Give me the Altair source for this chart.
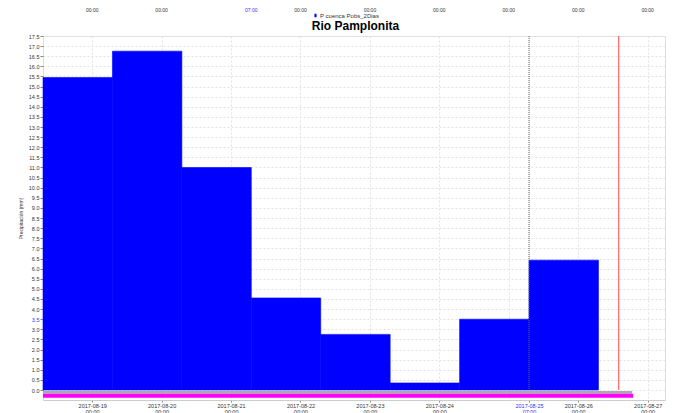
import altair as alt
import pandas as pd

# ---------------- data ----------------
series_name = "P cuenca Pobs_2Dias"
chart_title = "Rio Pamplonita"
y_title = "Precipitación (mm)"

bar_start = ["2017-08-18T07:00:00Z", "2017-08-19T07:00:00Z", "2017-08-20T07:00:00Z",
             "2017-08-21T07:00:00Z", "2017-08-22T07:00:00Z", "2017-08-23T07:00:00Z",
             "2017-08-24T07:00:00Z", "2017-08-25T07:00:00Z"]
bar_end = ["2017-08-19T07:00:00Z", "2017-08-20T07:00:00Z", "2017-08-21T07:00:00Z",
           "2017-08-22T07:00:00Z", "2017-08-23T07:00:00Z", "2017-08-24T07:00:00Z",
           "2017-08-25T07:00:00Z", "2017-08-26T07:00:00Z"]
bar_values = [15.45, 16.75, 11.0, 4.55, 2.75, 0.35, 3.5, 6.42]
bar_base = [0, 0, 0, 0, 0, 0, 0, 0]

band_names = ["gray", "magenta"]
band_start = ["2017-08-18T07:00:00Z", "2017-08-18T07:00:00Z"]
band_end = ["2017-08-26T18:40:00Z", "2017-08-26T19:00:00Z"]
band_top = [-0.05, -0.19]
band_bottom = [-0.19, -0.38]
band_colors = ["#aaaaaa", "#ff00ff"]

now_time = ["2017-08-25T07:00:00Z"]
red_time = ["2017-08-26T14:00:00Z"]

x_domain = ["2017-08-18T07:00:00Z", "2017-08-27T06:00:00Z"]
y_domain = [-0.494, 17.5]

x_tick_times = ["2017-08-19T00:00:00Z", "2017-08-20T00:00:00Z", "2017-08-21T00:00:00Z",
                "2017-08-22T00:00:00Z", "2017-08-23T00:00:00Z", "2017-08-24T00:00:00Z",
                "2017-08-25T00:00:00Z", "2017-08-25T07:00:00Z", "2017-08-26T00:00:00Z",
                "2017-08-27T00:00:00Z"]
y_ticks = [0.0, 0.5, 1.0, 1.5, 2.0, 2.5, 3.0, 3.5, 4.0, 4.5, 5.0, 5.5, 6.0, 6.5,
           7.0, 7.5, 8.0, 8.5, 9.0, 9.5, 10.0, 10.5, 11.0, 11.5, 12.0, 12.5, 13.0,
           13.5, 14.0, 14.5, 15.0, 15.5, 16.0, 16.5, 17.0, 17.5]

top_label_times = ["2017-08-19T00:00:00Z", "2017-08-20T00:00:00Z", "2017-08-21T07:00:00Z",
                   "2017-08-22T00:00:00Z", "2017-08-23T00:00:00Z", "2017-08-24T00:00:00Z",
                   "2017-08-25T00:00:00Z", "2017-08-26T00:00:00Z", "2017-08-27T00:00:00Z"]
top_label_texts = ["00:00", "00:00", "07:00", "00:00", "00:00", "00:00", "00:00", "00:00", "00:00"]
top_label_colors = ["#333333", "#333333", "#3333ff", "#333333", "#333333", "#333333",
                    "#333333", "#333333", "#333333"]


def ms(s):
    return int(pd.Timestamp(s).value // 10**6)


FONT = "Liberation Sans"
PLOT_W, PLOT_H = 622, 364
ZERO_PX = PLOT_H * y_domain[1] / (y_domain[1] - y_domain[0])

x_scale = alt.Scale(type="utc", domain=[ms(d) for d in x_domain], nice=False)
y_scale = alt.Scale(domain=y_domain, nice=False, zero=False)

bars_df = pd.DataFrame({"start": bar_start, "end": bar_end, "value": bar_values,
                        "base": bar_base, "series": [series_name] * len(bar_values)})
bands_df = pd.DataFrame({"name": band_names, "start": band_start, "end": band_end,
                         "value": band_top, "base": band_bottom, "color": band_colors})
now_df = pd.DataFrame({"start": now_time})
red_df = pd.DataFrame({"start": red_time})
top_df = pd.DataFrame({"start": top_label_times, "label": top_label_texts, "color": top_label_colors})
title_df = pd.DataFrame({"label": [chart_title]})

hide_test = "utcdate(datum.value) == 25 && utchours(datum.value) == 0"
blue_test = "utchours(datum.value) == 7"

GRID = "#e3e3e3"

x_axis = alt.Axis(
    values=[ms(t) for t in x_tick_times],
    labelExpr=("(" + hide_test + ") ? '' : [utcFormat(datum.value, '%Y-%m-%d'), "
               "utcFormat(datum.value, '%H:%M')]"),
    labelColor={"condition": {"test": blue_test, "value": "#3333ff"}, "value": "#333333"},
    tickColor={"condition": {"test": hide_test, "value": "transparent"}, "value": "#888888"},
    labelFont=FONT, labelFontSize=5.5, labelLineHeight=6.5, labelOverlap=False,
    labelFlush=False, labelPadding=1, tickSize=2, domainColor="#cccccc",
    grid=True, gridColor=GRID, gridDash=[2, 2], title=None,
)
y_axis = alt.Axis(
    values=y_ticks, format=".1f", labelFont=FONT, labelFontSize=5.5,
    labelColor={"condition": {"test": "datum.value == 3.5", "value": "#3333ff"}, "value": "#333333"},
    labelPadding=1, tickSize=3, tickColor="#888888", domain=False, labelOverlap=False,
    grid=True, gridColor=GRID, gridDash=[2, 2],
    title=y_title, titleFont=FONT, titleFontSize=5, titleFontWeight="normal",
    titleColor="#333333", titleAngle=270, titleX=-23, titleY=182,
    titleAlign="center", titleBaseline="middle",
)

bars = alt.Chart(bars_df).mark_rect(stroke="#0000ff", strokeWidth=0.6).encode(
    x=alt.X("start:T", scale=x_scale, axis=x_axis),
    x2="end:T",
    y=alt.Y("value:Q", scale=y_scale, axis=y_axis),
    y2="base:Q",
    color=alt.Color("series:N", scale=alt.Scale(domain=[series_name], range=["#0000ff"]),
                    legend=alt.Legend(orient="none", legendX=269, legendY=-24, title=None,
                                      symbolType="M-0.3,-0.5H0.3V0.5H-0.3Z", symbolSize=49,
                                      symbolStrokeWidth=0, labelFont=FONT, labelFontSize=6,
                                      labelColor="#333333", padding=0, labelOffset=1)),
)

bands = alt.Chart(bands_df).mark_rect().encode(
    x=alt.X("start:T", scale=x_scale, axis=x_axis),
    x2="end:T",
    y=alt.Y("value:Q", scale=y_scale, axis=y_axis),
    y2="base:Q",
    fill=alt.Fill("color:N", scale=None),
)

now_rule = alt.Chart(now_df).mark_rule(stroke="#666666", strokeDash=[1, 1], strokeWidth=1).encode(
    x=alt.X("start:T", scale=x_scale, axis=x_axis),
    y=alt.value(0),
    y2=alt.value(ZERO_PX),
)

red_rule = alt.Chart(red_df).mark_rule(stroke="#ff4a4a", color="#ff4a4a", strokeWidth=1,
                                       opacity=1).encode(
    x=alt.X("start:T", scale=x_scale, axis=x_axis),
    y=alt.value(0),
    y2=alt.value(ZERO_PX),
)

top_text = alt.Chart(top_df).mark_text(font=FONT, fontSize=5, baseline="alphabetic",
                                       align="center").encode(
    x=alt.X("start:T", scale=x_scale, axis=x_axis),
    y=alt.value(-24.5),
    text="label:N",
    fill=alt.Fill("color:N", scale=None),
)

title_text = alt.Chart(title_df).mark_text(font=FONT, fontSize=12, fontWeight="bold",
                                           baseline="alphabetic", align="center").encode(
    x=alt.value(312.5),
    y=alt.value(-6),
    text="label:N",
    fill=alt.value("#000000"),
)

chart = alt.layer(bars, bands, now_rule, red_rule, top_text, title_text).properties(
    width=PLOT_W, height=PLOT_H,
    autosize=alt.AutoSizeParams(type="none"),
    padding={"left": 35, "top": 28, "right": 1, "bottom": 16},
).configure_view(stroke="#cccccc").configure(background="white")

chart.save("out.html", embed_options={"renderer": "svg", "actions": False})
